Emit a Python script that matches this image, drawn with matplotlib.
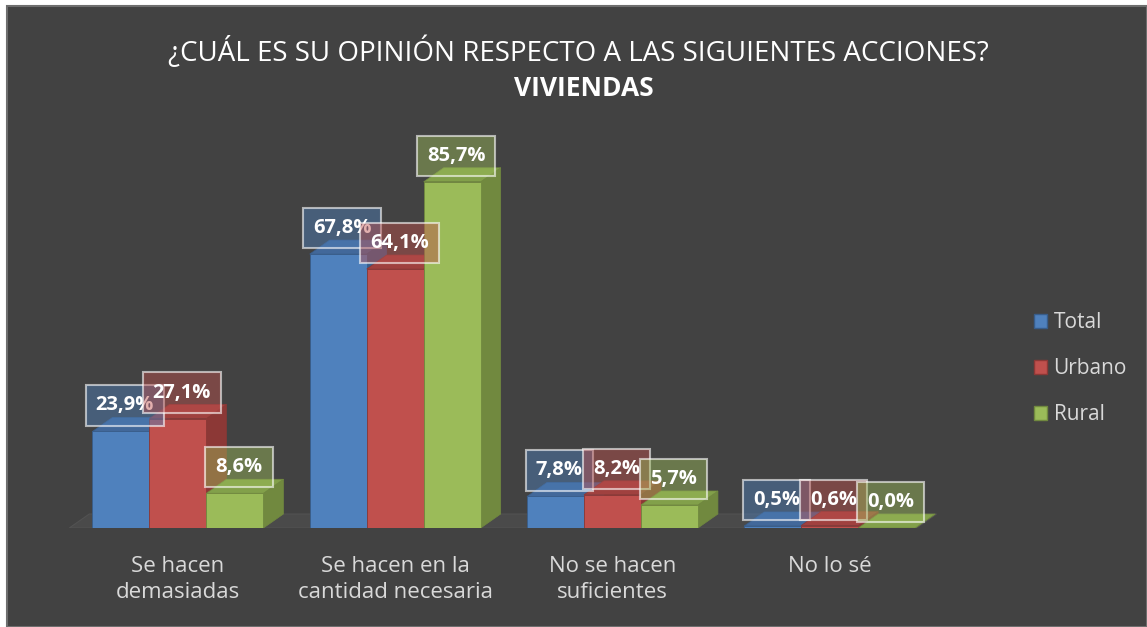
import matplotlib

matplotlib.use('Agg')

import matplotlib.pyplot as plt
from matplotlib.colors import to_rgb
from matplotlib.patches import Polygon, Rectangle, Patch

plt.rcParams['font.family'] = ['Open Sans', 'DejaVu Sans']

categories = ['Se hacen\ndemasiadas', 'Se hacen en la\ncantidad necesaria',
              'No se hacen\nsuficientes', 'No lo sé']
series = ['Total', 'Urbano', 'Rural']
total = [23.9, 67.8, 7.8, 0.5]
urbano = [27.1, 64.1, 8.2, 0.6]
rural = [8.6, 85.7, 5.7, 0.0]

front_colors = ['#4f81bd', '#c0504d', '#9bbb59']
side_colors = ['#385d8a', '#8c3836', '#71893f']
top_colors = ['#42689a', '#a0413f', '#82a04a']
bg = '#424242'

W, H = 1147, 627
fig = plt.figure(figsize=(W / 100, H / 100), dpi=100, facecolor='white')
fig.patches.append(Rectangle((7 / W, 0), 1 - 7 / W, 1 - 6 / H, transform=fig.transFigure,
                             facecolor=bg, edgecolor='#6e6e6e', linewidth=1.5, zorder=-10))

ax = fig.add_axes([69.3 / W, 99 / H, 869 / W, 404 / H])
ax.set_xlim(-0.5, 3.5)
ax.set_ylim(0, 100)
ax.patch.set_visible(False)
for s in ax.spines.values():
    s.set_visible(False)
ax.set_yticks([])

px_x = 869 / 4.0      # pixels per x unit
px_y = 404 / 100.0    # pixels per percent
dx = 20 / px_x
dy = 14 / px_y
width = 57 / px_x

# floor
floor = Polygon([(-0.5, 0), (3.4, 0), (3.4 + dx, dy), (-0.5 + dx, dy)],
                closed=True, facecolor='#4a4a4a', edgecolor='#525252', linewidth=0.8, zorder=1)
ax.add_patch(floor)

data = [total, urbano, rural]
for j, vals in enumerate(data):
    xs = [i + (j - 1) * width for i in range(len(categories))]
    bars = ax.bar(xs, vals, width=width, color=front_colors[j], edgecolor=side_colors[j],
                  linewidth=0.6, label=series[j])
    for i, (rect, v) in enumerate(zip(bars, vals)):
        z = 10 + i * 10 + j * 3
        x0 = rect.get_x()
        x1 = x0 + rect.get_width()
        side = Polygon([(x1, 0), (x1 + dx, dy), (x1 + dx, v + dy), (x1, v)], closed=True,
                       facecolor=side_colors[j], edgecolor=side_colors[j], linewidth=0.5, zorder=z)
        top = Polygon([(x0, v), (x1, v), (x1 + dx, v + dy), (x0 + dx, v + dy)], closed=True,
                      facecolor=top_colors[j], edgecolor=side_colors[j], linewidth=0.5, zorder=z + 1)
        ax.add_patch(side)
        ax.add_patch(top)
        rect.set_zorder(z + 2)
        ax.annotate(f'{v:.1f}%'.replace('.', ','), (rect.get_x() + width / 2, v),
                    xytext=(4, 26), textcoords='offset pixels', ha='center', va='center',
                    color='white', fontsize=14.5, fontweight='bold', zorder=200 + i * 3 + j,
                    bbox=dict(boxstyle='square,pad=0.5',
                              facecolor=(*to_rgb(front_colors[j]), 0.45),
                              edgecolor=(1, 1, 1, 0.6), linewidth=1.5))

ax.set_xticks(range(len(categories)))
ax.set_xticklabels(categories, color='#d9d9d9', fontsize=16, linespacing=1.35)
ax.tick_params(axis='x', length=0, pad=20)

fig.text(578 / W, 1 - 52 / H, '¿CUÁL ES SU OPINIÓN RESPECTO A LAS SIGUIENTES ACCIONES?',
         ha='center', va='center', color='white', fontsize=20)
fig.text(584 / W, 1 - 88 / H, 'VIVIENDAS', ha='center', va='center', color='white',
         fontsize=19, fontweight='bold')

handles = [Patch(facecolor=front_colors[j], edgecolor=side_colors[j]) for j in range(3)]
fig.legend(handles, series, loc='center left', bbox_to_anchor=(1015 / W, 1 - 369 / H),
           frameon=False, fontsize=15, labelcolor='#d9d9d9', handlelength=0.65,
           handleheight=0.65, handletextpad=0.3, labelspacing=1.2)

fig.savefig('out.png', dpi=100, facecolor=fig.get_facecolor())
